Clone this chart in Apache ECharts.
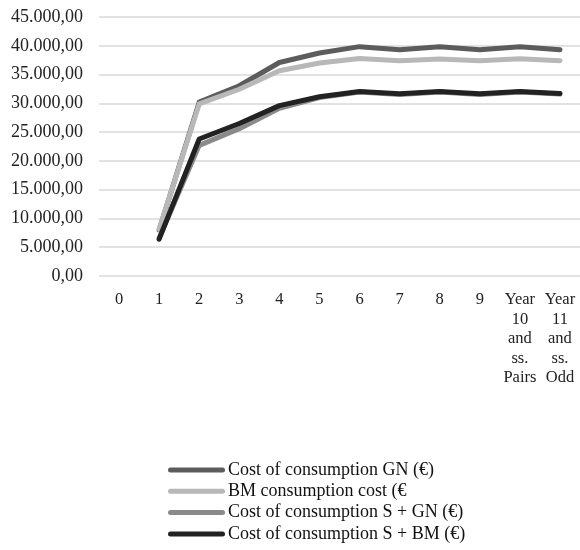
<!DOCTYPE html>
<html>
<head>
<meta charset="utf-8">
<script src="https://cdn.jsdelivr.net/npm/echarts@6/dist/echarts.min.js"></script>
<style>html,body{margin:0;padding:0;background:#fff}#c{width:580px;height:550px}</style>
</head>
<body>
<div id="c"></div>
<script>
var categories = ["0", "1", "2", "3", "4", "5", "6", "7", "8", "9", "Year\n10\nand\nss.\nPairs", "Year\n11\nand\nss.\nOdd"];
var seriesNames = ["Cost of consumption GN (€)", "BM consumption cost (€", "Cost of consumption S + GN (€)", "Cost of consumption S + BM (€)"];
var costGN   = [null, 8000, 30200, 33050, 37100, 38750, 39850, 39300, 39850, 39300, 39850, 39300];
var costBM   = [null, 8100, 29900, 32450, 35650, 37000, 37800, 37400, 37700, 37400, 37750, 37400];
var costSGN  = [null, 6600, 22700, 25600, 29150, 31000, 31950, 31550, 31950, 31550, 31950, 31600];
var costSBM  = [null, 6400, 23800, 26500, 29600, 31150, 32050, 31650, 32050, 31650, 32050, 31700];
var colors = ["#5c5c5c", "#b8b8b8", "#8a8a8a", "#222222"];
var yMin = 0, yMax = 45000, yStep = 5000;

function fmt(v) {
  var s = Math.round(v).toString().replace(/\B(?=(\d{3})+(?!\d))/g, ".");
  return s + ",00";
}

var font = "'Liberation Serif', 'Times New Roman', serif";
var data = [costGN, costBM, costSGN, costSBM];
var series = data.map(function (d, i) {
  return {
    name: seriesNames[i],
    type: "line",
    data: d,
    symbol: "none",
    connectNulls: false,
    lineStyle: { color: colors[i], width: 5, cap: "round", join: "round" },
    itemStyle: { color: colors[i] },
    emphasis: { disabled: true }
  };
});

var pill = "path://M2.5,0 L54.5,0 A2.5,2.5 0 0 1 54.5,5 L2.5,5 A2.5,2.5 0 0 1 2.5,0 Z";

var chart = echarts.init(document.getElementById("c"));
chart.setOption({
  animation: false,
  backgroundColor: "#fff",
  grid: { left: 99, right: 0, top: 17, bottom: 274 },
  xAxis: {
    type: "category",
    data: categories,
    boundaryGap: true,
    axisLine: { show: false },
    axisTick: { show: false },
    axisLabel: { color: "#222", fontFamily: font, fontSize: 16.5, lineHeight: 19.5, margin: 14, interval: 0, align: "center" }
  },
  yAxis: {
    type: "value",
    min: yMin, max: yMax, interval: yStep,
    axisLine: { show: false },
    axisTick: { show: false },
    splitLine: { lineStyle: { color: "#d9d9d9", width: 1.5 } },
    axisLabel: { color: "#222", fontFamily: font, fontSize: 18, margin: 16, formatter: fmt }
  },
  legend: {
    orient: "vertical",
    left: 163,
    top: 456,
    height: 120,
    width: 410,
    icon: pill,
    itemWidth: 57,
    itemHeight: 5,
    itemGap: 3.3,
    textStyle: { color: "#111", fontFamily: font, fontSize: 18, lineHeight: 18, padding: [0, 0, 0, -2] },
    data: seriesNames
  },
  series: series
});
</script>
</body>
</html>
